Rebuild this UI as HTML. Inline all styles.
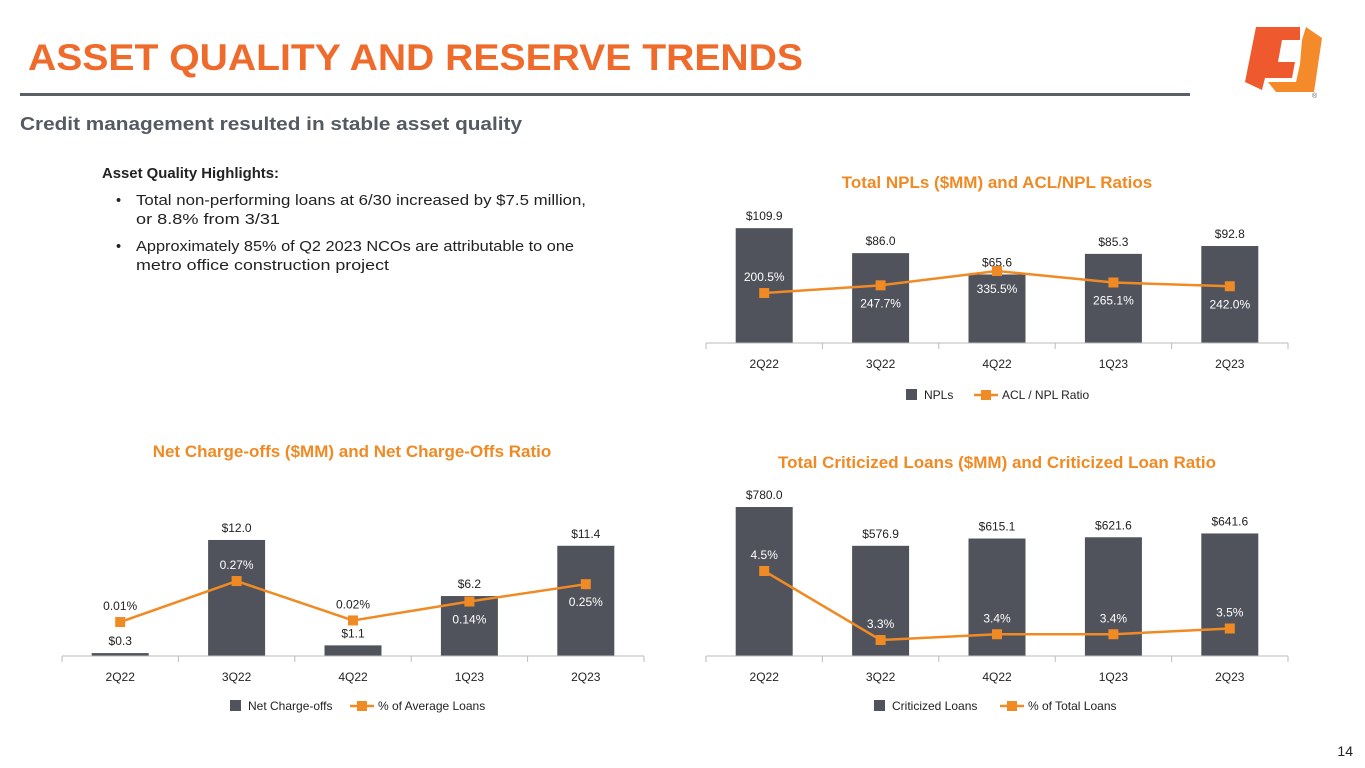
<!DOCTYPE html>
<html><head><meta charset="utf-8">
<style>
html,body{margin:0;padding:0;background:#fff;}
svg{display:block;font-family:"Liberation Sans",sans-serif;}
</style></head>
<body>
<svg id="s" width="1365" height="768" viewBox="0 0 1365 768" xmlns="http://www.w3.org/2000/svg">
<text x="28" y="70" font-size="37" font-weight="bold" fill="#EE6B2B" textLength="775" lengthAdjust="spacingAndGlyphs">ASSET QUALITY AND RESERVE TRENDS</text>
<rect x="20" y="93" width="1170" height="3" fill="#5B5F67"/>
<text x="20" y="130" font-size="18" font-weight="bold" fill="#555A62" textLength="502" lengthAdjust="spacingAndGlyphs">Credit management resulted in stable asset quality</text>
<g>
<path d="M1256 27 L1300 27 L1300 40 L1282 40 L1278 62 L1295 62 L1292 78 L1265 78 L1262 90 L1245 82 Z" fill="#EE5A2E"/>
<path d="M1306 27 L1322 38 L1314 92 L1276 92 L1268 82 L1296 82 L1300 64 L1302 40 Z" fill="#F58A2A"/>
<text x="1312" y="98" font-size="7" fill="#666">®</text>
</g>
<g font-size="14.5" fill="#222">
<text x="102" y="178" font-weight="bold" textLength="177" lengthAdjust="spacingAndGlyphs">Asset Quality Highlights:</text>
<text x="116" y="205">•</text>
<text x="136" y="205" textLength="450" lengthAdjust="spacingAndGlyphs">Total non-performing loans at 6/30 increased by $7.5 million,</text>
<text x="136" y="224" textLength="144" lengthAdjust="spacingAndGlyphs">or 8.8% from 3/31</text>
<text x="116" y="251">•</text>
<text x="136" y="251" textLength="438" lengthAdjust="spacingAndGlyphs">Approximately 85% of Q2 2023 NCOs are attributable to one</text>
<text x="136" y="270" textLength="253" lengthAdjust="spacingAndGlyphs">metro office construction project</text>
</g>
<text x="1353" y="756" font-size="14" fill="#222" text-anchor="end">14</text>
</svg>
<script>
const categories = ["2Q22","3Q22","4Q22","1Q23","2Q23"];
const nplValues = [109.9,86.0,65.6,85.3,92.8];
const aclRatio = [200.5,247.7,335.5,265.1,242.0];
const ncoValues = [0.3,12.0,1.1,6.2,11.4];
const ncoRatio = [0.01,0.27,0.02,0.14,0.25];
const critValues = [780.0,576.9,615.1,621.6,641.6];
const critRatio = [4.5,3.3,3.4,3.4,3.5];
const nplLabels = ["$109.9","$86.0","$65.6","$85.3","$92.8"];
const aclLabels = ["200.5%","247.7%","335.5%","265.1%","242.0%"];
const ncoLabels = ["$0.3","$12.0","$1.1","$6.2","$11.4"];
const ncoRatioLabels = ["0.01%","0.27%","0.02%","0.14%","0.25%"];
const critLabels = ["$780.0","$576.9","$615.1","$621.6","$641.6"];
const critRatioLabels = ["4.5%","3.3%","3.4%","3.4%","3.5%"];

const NS="http://www.w3.org/2000/svg";
const svg=document.getElementById('s');
function mk(tag,attrs,parent){const e=document.createElementNS(NS,tag);for(const k in attrs)e.setAttribute(k,attrs[k]);(parent||svg).appendChild(e);return e;}

function chart(o){
  const g=mk('g',{});
  
  
  const step=(o.x1-o.x0)/categories.length;
  const xc=i=>o.x0+step*(i+0.5);
  const yb=v=>o.axisY-v*o.barScale;
  const yl=v=>o.lineB-v*o.lineScale;
  const t=mk('text',{x:o.titleX,y:o.titleY,'font-size':17,'font-weight':'bold',fill:'#F08A24','text-anchor':'middle'},g);
  t.textContent=o.title;
  
  
  const bw=57;
  o.bars.forEach((v,i)=>{
    const r=mk('rect',{x:xc(i)-bw/2,y:yb(v),width:bw,height:o.axisY-yb(v),fill:'#50535B'},g);
    
    
    const l=mk('text',{x:xc(i),y:yb(v)-8,'font-size':12,fill:'#222','text-anchor':'middle'},g);
    l.textContent=o.barLabels[i];
    
    
  });
  const ax=mk('path',{d:`M${o.x0} ${o.axisY}H${o.x1}`+categories.map((c,i)=>`M${o.x0+step*i} ${o.axisY}v6`).join('')+`M${o.x1} ${o.axisY}v6`,stroke:'#bbb','stroke-width':1,fill:'none'},g);
  
  
  categories.forEach((c,i)=>{
    const l=mk('text',{x:xc(i),y:o.axisY+25,'font-size':12,fill:'#222','text-anchor':'middle'},g);
    l.textContent=c;
    
    
  });
  const ln=mk('polyline',{points:o.line.map((v,i)=>xc(i)+','+yl(v)).join(' '),fill:'none',stroke:'#F08A24','stroke-width':2.5},g);
  
  
  o.line.forEach((v,i)=>{
    const m=mk('rect',{x:xc(i)-5,y:yl(v)-5,width:10,height:10,fill:'#F08A24'},g);
    
    
    const ly=yl(v)+(o.side[i]<0?-12:22);
    const inBar=ly-10>yb(o.bars[i]);
    const l=mk('text',{x:xc(i),y:ly,'font-size':12,fill:inBar?'#fff':'#222','text-anchor':'middle'},g);
    l.textContent=o.lineLabels[i];
    
    
  });
  const lg=mk('g',{},g);
  
  
  mk('rect',{x:o.legX,y:o.legY-6,width:11,height:11,fill:'#50535B'},lg);
  mk('text',{x:o.legX+18,y:o.legY+4,'font-size':12,fill:'#222'},lg).textContent=o.leg1;
  const lx=o.legX+o.leg1w;
  mk('path',{d:`M${lx} ${o.legY}h24`,stroke:'#F08A24','stroke-width':2.5},lg);
  mk('rect',{x:lx+7,y:o.legY-5,width:10,height:10,fill:'#F08A24'},lg);
  mk('text',{x:lx+28,y:o.legY+4,'font-size':12,fill:'#222'},lg).textContent=o.leg2;
}
chart({name:'npl-chart',title:'Total NPLs ($MM) and ACL/NPL Ratios',titleX:997,titleY:188,x0:706,x1:1288,axisY:343,barScale:1.045,lineB:325.7,lineScale:0.163,bars:nplValues,line:aclRatio,barLabels:nplLabels,lineLabels:aclLabels,side:[-1,1,1,1,1],legX:906,legY:395,leg1:'NPLs',leg1w:68,leg2:'ACL / NPL Ratio'});
chart({name:'nco-chart',title:'Net Charge-offs ($MM) and Net Charge-Offs Ratio',titleX:352,titleY:457,x0:62,x1:644,axisY:656,barScale:9.67,lineB:623.6,lineScale:157.7,bars:ncoValues,line:ncoRatio,barLabels:ncoLabels,lineLabels:ncoRatioLabels,side:[-1,-1,-1,1,1],legX:230,legY:706,leg1:'Net Charge-offs',leg1w:120,leg2:'% of Average Loans'});
chart({name:'criticized-chart',title:'Total Criticized Loans ($MM) and Criticized Loan Ratio',titleX:997,titleY:468,x0:706,x1:1288,axisY:656,barScale:0.191,lineB:829.75,lineScale:57.5,bars:critValues,line:critRatio,barLabels:critLabels,lineLabels:critRatioLabels,side:[-1,-1,-1,-1,-1],legX:874,legY:706,leg1:'Criticized Loans',leg1w:126,leg2:'% of Total Loans'});
</script>
</body></html>
